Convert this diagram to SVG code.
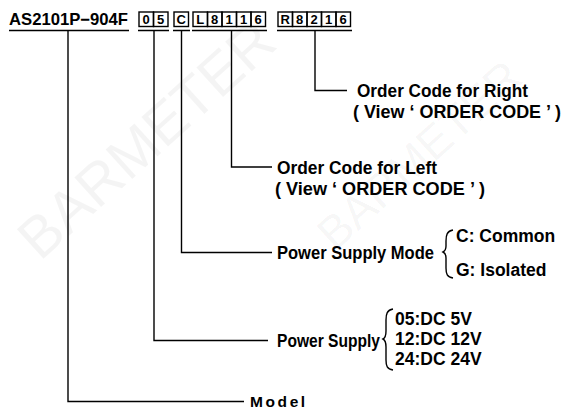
<svg xmlns="http://www.w3.org/2000/svg" width="565" height="409" viewBox="0 0 565 409">
<style>
.t{font-family:"Liberation Sans",Arial,sans-serif;font-weight:bold;fill:#000}
.lbl{font-size:17.5px}
.box{fill:none;stroke:#000;stroke-width:1.4}
.bt{font-family:"Liberation Sans",Arial,sans-serif;font-weight:bold;font-size:13px;text-anchor:middle}
.ln{fill:none;stroke:#000;stroke-width:1.4}
.wm{font-family:"Liberation Sans",Arial,sans-serif;fill:#000;fill-opacity:0.045}
</style>
<rect width="565" height="409" fill="#fff"/>
<g id="watermark">
<text class="wm" font-size="58" transform="translate(40,262) rotate(-42)">BARMETER</text>
<text class="wm" font-size="46" transform="translate(335,252) rotate(-42)">BARMETER</text>
</g>
<g id="header">
<text class="t" x="9" y="25" font-size="16.5" textLength="119" lengthAdjust="spacingAndGlyphs">AS2101P−904F</text>
<g id="code-05">
<rect class="box" x="139" y="12" width="14.5" height="14.5"/><rect class="box" x="153.5" y="12" width="14.5" height="14.5"/>
<text class="bt" x="146.2" y="24.2">0</text><text class="bt" x="160.7" y="24.2">5</text>
</g>
<g id="code-C">
<rect class="box" x="174" y="12" width="14.5" height="14.5"/><text class="bt" x="181.2" y="24.2">C</text>
</g>
<g id="code-L">
<rect class="box" x="193" y="12" width="14.5" height="14.5"/><rect class="box" x="207.5" y="12" width="14.5" height="14.5"/><rect class="box" x="222" y="12" width="14.5" height="14.5"/><rect class="box" x="236.5" y="12" width="14.5" height="14.5"/><rect class="box" x="251" y="12" width="14.5" height="14.5"/>
<text class="bt" x="200.2" y="24.2">L</text><text class="bt" x="214.7" y="24.2">8</text><text class="bt" x="229.2" y="24.2">1</text><text class="bt" x="243.7" y="24.2">1</text><text class="bt" x="258.2" y="24.2">6</text>
</g>
<g id="code-R">
<rect class="box" x="278" y="12" width="14.5" height="14.5"/><rect class="box" x="292.5" y="12" width="14.5" height="14.5"/><rect class="box" x="307" y="12" width="14.5" height="14.5"/><rect class="box" x="321.5" y="12" width="14.5" height="14.5"/><rect class="box" x="336" y="12" width="14.5" height="14.5"/>
<text class="bt" x="285.2" y="24.2">R</text><text class="bt" x="299.7" y="24.2">8</text><text class="bt" x="314.2" y="24.2">2</text><text class="bt" x="328.7" y="24.2">1</text><text class="bt" x="343.2" y="24.2">6</text>
</g>
</g>
<g id="connectors">
<path class="ln" d="M9,30.5H129M138,30.5H169M173,30.5H190M192,30.5H267M277,30.5H352"/>
<path class="ln" d="M68,30.5V401.5H244"/>
<path class="ln" d="M154,30.5V340.5H268"/>
<path class="ln" d="M181.5,30.5V252.5H272"/>
<path class="ln" d="M231.5,30.5V167H272"/>
<path class="ln" d="M315,30.5V90.5H347"/>
<path class="ln" d="M453,230C447,231 446,235 446,241V246C446,249 445,251 443,252C445,253 446,255 446,258V268C446,274 447,277 453,278"/>
<path class="ln" d="M393,309C387,310 386,314 386,320V331C386,335 385,338 383,339C385,340 386,343 386,347V360C386,366 387,369 393,370"/>
</g>
<g id="right">
<text class="t lbl" x="357" y="97" textLength="171" lengthAdjust="spacingAndGlyphs">Order Code for Right</text>
<text class="t lbl" x="353" y="118" textLength="208" lengthAdjust="spacingAndGlyphs">( View ‘ ORDER CODE ’ )</text>
</g>
<g id="left">
<text class="t lbl" x="277" y="173.5" textLength="160" lengthAdjust="spacingAndGlyphs">Order Code for Left</text>
<text class="t lbl" x="275" y="194.5" textLength="210" lengthAdjust="spacingAndGlyphs">( View ‘ ORDER CODE ’ )</text>
</g>
<g id="mode">
<text class="t lbl" x="277" y="258.5" textLength="157" lengthAdjust="spacingAndGlyphs">Power Supply Mode</text>
<text class="t lbl" x="456" y="242">C: Common</text>
<text class="t lbl" x="456" y="276">G: Isolated</text>
</g>
<g id="supply">
<text class="t lbl" x="277" y="346.5" textLength="103" lengthAdjust="spacingAndGlyphs">Power Supply</text>
<text class="t lbl" x="395" y="325">05:DC 5V</text>
<text class="t lbl" x="395" y="345">12:DC 12V</text>
<text class="t lbl" x="395" y="365">24:DC 24V</text>
</g>
<g id="model">
<text class="t" x="250" y="406.5" font-size="15.5" letter-spacing="2.6">Model</text>
</g>
</svg>
